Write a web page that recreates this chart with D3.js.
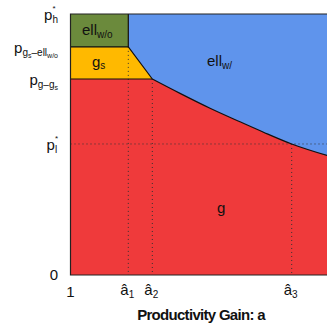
<!DOCTYPE html>
<html>
<head>
<meta charset="utf-8">
<style>
  body { margin: 0; background: #fff; }
  text { font-family: "Liberation Sans", Arial, sans-serif; fill: #111; }
</style>
<script src="https://cdn.jsdelivr.net/npm/d3@7"></script>
</head>
<body>
<svg width="327" height="328"></svg>
<script>
// thresholds on the a axis (a-hat 1,2,3)
var aHat = [1.676, 1.957, 3.587];
var aHatNames = ["1", "2", "3"];

// price levels on the p axis
var pLevels = [1.0, 0.874, 0.751, 0.502, 0];
var pNames = ["h", "gs-ell", "g-gs", "l", "0"];

// frontier between g and ell_w/
var frontierA = [1.957, 2.281, 2.632, 2.982, 3.251, 3.587, 4.0];
var frontierP = [0.751, 0.696, 0.639, 0.587, 0.548, 0.502, 0.458];

var svg = d3.select("svg"),
    width = +svg.attr("width"),
    height = +svg.attr("height");

var x = d3.scaleLinear().domain([1, 4]).range([70.5, 327]);
var y = d3.scaleLinear().domain([0, 1]).range([275, 14]);

var colors = { ellwo: "#6b8a3c", gs: "#ffb900", g: "#ef3a3b", ellw: "#5f94ec" };

var pH = pLevels[0], pGsEll = pLevels[1], pGGs = pLevels[2], pL = pLevels[3];
var aMin = x.domain()[0], aMax = x.domain()[1];

var frontier = frontierA.map(function(a, i) { return [a, frontierP[i]]; });

var line = d3.line()
    .x(function(d) { return x(d[0]); })
    .y(function(d) { return y(d[1]); });

var curveLine = d3.line()
    .x(function(d) { return x(d[0]); })
    .y(function(d) { return y(d[1]); })
    .curve(d3.curveMonotoneX);

// regions
var g = svg.append("g");

// red (g) : everything, drawn first
g.append("rect")
    .attr("x", x(aMin)).attr("y", y(pH))
    .attr("width", x(aMax) - x(aMin)).attr("height", y(0) - y(pH))
    .attr("fill", colors.g);

// blue (ell_w/): above frontier and right of a1
var bluePath = curveLine(frontier.slice().reverse()) +
    "L" + x(aHat[0]) + "," + y(pGsEll) +
    "L" + x(aHat[0]) + "," + y(pH) +
    "L" + x(aMax) + "," + y(pH) + "Z";
g.append("path").attr("d", bluePath).attr("fill", colors.ellw);

// yellow (g_s)
g.append("path")
    .attr("d", line([[aMin, pGsEll], [aHat[0], pGsEll], [aHat[1], pGGs], [aMin, pGGs]]) + "Z")
    .attr("fill", colors.gs);

// green (ell_w/o)
g.append("path")
    .attr("d", line([[aMin, pH], [aHat[0], pH], [aHat[0], pGsEll], [aMin, pGsEll]]) + "Z")
    .attr("fill", colors.ellwo);

// dotted guides
var dots = svg.append("g")
    .attr("stroke", "#333")
    .attr("stroke-width", 1)
    .attr("stroke-dasharray", "1,3");

dots.append("line")
    .attr("x1", x(aMin)).attr("x2", x(aMax))
    .attr("y1", y(pL)).attr("y2", y(pL));

var guideTop = [pGsEll, pGGs, pL];
dots.selectAll(".vg")
  .data(aHat)
  .enter().append("line")
    .attr("class", "vg")
    .attr("x1", function(d) { return x(d); })
    .attr("x2", function(d) { return x(d); })
    .attr("y1", function(d, i) { return y(guideTop[i]); })
    .attr("y2", y(0));

// boundaries
var edges = svg.append("g")
    .attr("fill", "none")
    .attr("stroke", "#111")
    .attr("stroke-width", 1.2);

edges.append("path").attr("d", curveLine(frontier));
edges.append("path").attr("d", line([[aMin, pGsEll], [aHat[0], pGsEll]]));
edges.append("path").attr("d", line([[aMin, pGGs], [aHat[1], pGGs]]));
edges.append("path").attr("d", line([[aHat[0], pH], [aHat[0], pGsEll], [aHat[1], pGGs]]));

// frame
edges.append("path")
    .attr("d", line([[aMax, pH], [aMin, pH], [aMin, 0], [aMax, 0]]))
    .attr("stroke", "#222");

// helper: text built from [string, size, dy, dx] parts
function rich(sel, parts) {
  parts.forEach(function(p) {
    var t = sel.append("tspan")
        .attr("font-size", p[1] + "px")
        .attr("dy", p[2])
        .text(p[0]);
    if (p[3]) t.attr("dx", p[3]);
  });
  return sel;
}

// y labels (star sits above the subscript)
var yl = svg.append("g").attr("text-anchor", "end");
var yParts = [
  [["p", 15, 0], ["*", 8, -9], ["h", 10, 12, -3.1]],
  [["p", 15, 0], ["g", 10, 3], ["s", 7, 2], ["\u2013ell", 10, -2], ["w/o", 7, 2]],
  [["p", 15, 0], ["g\u2013g", 10, 3], ["s", 7, 2]],
  [["p", 15, 0], ["*", 8, -9], ["l", 10, 12, -3.1]]
];
yParts.forEach(function(parts, i) {
  rich(yl.append("text").attr("x", 58).attr("y", y(pLevels[i]) + 6), parts);
});
yl.append("text")
    .attr("x", 58).attr("y", y(0) + 5)
    .attr("font-size", "15px")
    .text("0");

// x labels
var xl = svg.append("g");
xl.append("text")
    .attr("x", x(aMin)).attr("y", 297)
    .attr("text-anchor", "middle")
    .attr("font-size", "15px")
    .text("1");

var hats = xl.selectAll(".hat")
  .data(aHat)
  .enter().append("text")
    .attr("class", "hat")
    .attr("x", function(d) { return x(d) - 8; })
    .attr("y", 295);
hats.append("tspan")
    .attr("font-size", "15px")
    .text("\u00e2");
hats.append("tspan")
    .attr("font-size", "10px")
    .attr("dy", 3)
    .text(function(d, i) { return aHatNames[i]; });

svg.append("text")
    .attr("x", 201).attr("y", 320)
    .attr("text-anchor", "middle")
    .attr("font-size", "15px")
    .attr("font-weight", "bold")
    .attr("letter-spacing", "-0.7px")
    .text("Productivity Gain: a");

// region labels
var rl = svg.append("g");
rich(rl.append("text").attr("x", 82).attr("y", 35), [["ell", 15, 0], ["w/o", 10, 3]]);
rich(rl.append("text").attr("x", 92).attr("y", 67), [["g", 15, 0], ["s", 10, 2]]);
rich(rl.append("text").attr("x", 207).attr("y", 66), [["ell", 15, 0], ["w/", 10, 3]]);
rl.append("text").attr("x", 217).attr("y", 213).attr("font-size", "15px").text("g");
</script>
</body>
</html>
